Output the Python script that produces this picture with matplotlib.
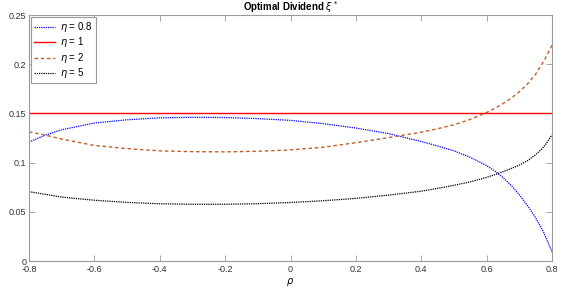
import numpy as np
import matplotlib
matplotlib.use("Agg")
import matplotlib.pyplot as plt

plt.rcParams['font.family'] = ['Liberation Sans', 'DejaVu Sans']
plt.rcParams['mathtext.fontset'] = 'dejavusans'

# data
rho = [-0.8, -0.75, -0.7, -0.6, -0.5, -0.4, -0.3, -0.2, -0.1, 0.0, 0.1, 0.2, 0.3,
       0.4, 0.45, 0.5, 0.55, 0.6, 0.625, 0.65, 0.675, 0.7, 0.725, 0.75, 0.775, 0.8]
xi_eta08 = [0.121, 0.128, 0.1335, 0.1403, 0.1436, 0.1456, 0.1461, 0.1459, 0.1448,
            0.1430, 0.1397, 0.1352, 0.1296, 0.1215, 0.1170, 0.1120, 0.1055,
            0.0970, 0.0915, 0.0850, 0.0770, 0.0675, 0.0565, 0.0440, 0.0290, 0.0095]
xi_eta1 = [0.15] * len(rho)
xi_eta2 = [0.1314, 0.128, 0.124, 0.1175, 0.1143, 0.1120, 0.1112, 0.1110, 0.1116,
           0.1130, 0.1157, 0.1203, 0.1255, 0.1310, 0.1345, 0.1385, 0.1440,
           0.1510, 0.1552, 0.1600, 0.1655, 0.1720, 0.1800, 0.1900, 0.2030, 0.2195]
xi_eta5 = [0.0705, 0.0678, 0.065, 0.0618, 0.0596, 0.0582, 0.0577, 0.0577, 0.0583,
           0.0595, 0.0613, 0.0637, 0.067, 0.071, 0.0738, 0.0770, 0.0805, 0.0850,
           0.0878, 0.0908, 0.0940, 0.0975, 0.1020, 0.108, 0.116, 0.128]
labels = [r'$\eta$ = 0.8', r'$\eta$ = 1', r'$\eta$ = 2', r'$\eta$ = 5']

fig = plt.figure(figsize=(5.81, 2.91), dpi=100)
ax = fig.add_axes([0.050, 0.103, 0.900, 0.845])

dots = (0, (1, 0.8))
ax.plot(rho, xi_eta08, linestyle=dots, color='blue', lw=0.9, label=labels[0])
ax.plot(rho, xi_eta1, '-', color='red', lw=1.0, label=labels[1])
ax.plot(rho, xi_eta2, '--', color=(0.75, 0.38, 0.18), lw=1.0, label=labels[2],
        dashes=(2.5, 2))
ax.plot(rho, xi_eta5, linestyle=dots, color='black', lw=0.9, label=labels[3])

ax.set_xlim(-0.8, 0.8)
ax.set_ylim(0, 0.25)
ax.set_xticks(np.arange(-0.8, 0.81, 0.2))
ax.set_xticklabels(['-0.8', '-0.6', '-0.4', '-0.2', '0', '0.2', '0.4', '0.6', '0.8'])
ax.set_yticks([0, 0.05, 0.1, 0.15, 0.2, 0.25])
ax.set_yticklabels(['0', '0.05', '0.1', '0.15', '0.2', '0.25'])

gray = '#9a9a9a'
for s in ax.spines.values():
    s.set_color(gray)
    s.set_linewidth(0.8)
ax.tick_params(direction='in', top=True, right=True, length=4, width=0.6,
               color=gray, labelsize=6.5, labelcolor='#333333', pad=2)
ax.tick_params(axis='x', pad=3)

ax.set_title(r'Optimal Dividend $\xi^*$', fontsize=7, fontweight='bold', pad=3)
ax.set_xlabel(r'$\rho$', fontsize=7, labelpad=1)

leg = ax.legend(loc='upper left', fontsize=7, fancybox=False, framealpha=1,
                borderpad=0.3, labelspacing=0.15, handlelength=2.2,
                handletextpad=0.5, borderaxespad=0.2)
leg.get_frame().set_edgecolor(gray)
leg.get_frame().set_linewidth(0.8)

fig.savefig('out.png', dpi=100)
